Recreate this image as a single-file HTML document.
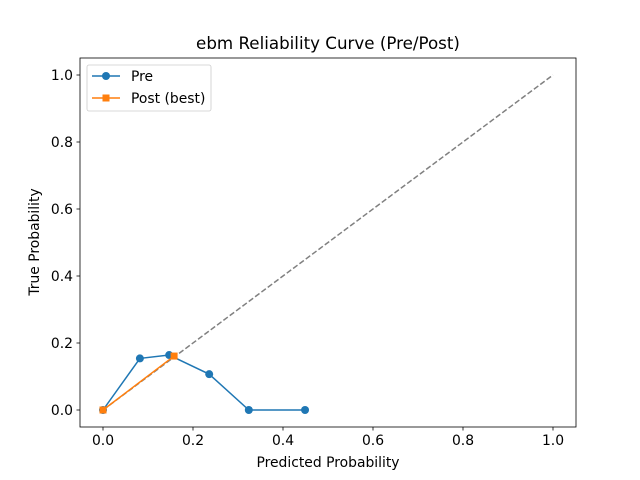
<!DOCTYPE html>
<html><head><meta charset="utf-8"><style>body{margin:0;background:#fff}svg{display:block;font-family:"DejaVu Sans","Liberation Sans",sans-serif}</style></head>
<body>
<svg id="chart" width="640" height="480" viewBox="0 0 640 480">
<rect width="640" height="480" fill="#fff"/>
<g id="plot"></g>
</svg>
<script>
const xTicks=[0,0.2,0.4,0.6,0.8,1.0];
const xTickLabels=["0.0","0.2","0.4","0.6","0.8","1.0"];
const yTicks=[0,0.2,0.4,0.6,0.8,1.0];
const yTickLabels=["0.0","0.2","0.4","0.6","0.8","1.0"];
const preX=[0,0.082,0.147,0.236,0.324,0.449];
const preY=[0,0.154,0.164,0.107,0,0];
const postX=[0,0.158];
const postY=[0,0.161];
const diagX=[0,1];
const diagY=[0,1];

const NS="http://www.w3.org/2000/svg";
const L=80,R=576,T=58,B=427;
const sx=v=>103+v*450, sy=v=>410-v*335;
const g=document.getElementById('plot');
function mk(tag,attrs,parent){const e=document.createElementNS(NS,tag);for(const k in attrs)e.setAttribute(k,attrs[k]);(parent||g).appendChild(e);return e;}
function txt(s,attrs){const e=mk('text',attrs);e.textContent=s;return e;}

const diag=mk('polyline',{points:diagX.map((x,i)=>sx(x)+','+sy(diagY[i])).join(' '),fill:'none',stroke:'#808080','stroke-width':1.5,'stroke-dasharray':'5.5,2.4'});



const pre=mk('polyline',{points:preX.map((x,i)=>sx(x)+','+sy(preY[i])).join(' '),fill:'none',stroke:'#1f77b4','stroke-width':1.5});


preX.forEach((x,i)=>{const c=mk('circle',{cx:sx(x),cy:sy(preY[i]),r:4,fill:'#1f77b4'});

});

const post=mk('polyline',{points:postX.map((x,i)=>sx(x)+','+sy(postY[i])).join(' '),fill:'none',stroke:'#ff7f0e','stroke-width':1.5});


postX.forEach((x,i)=>{const r=mk('rect',{x:sx(x)-3.5,y:sy(postY[i])-3.5,width:7,height:7,fill:'#ff7f0e'});

});

const frame=mk('rect',{x:L,y:T,width:R-L,height:B-T,fill:'none',stroke:'#000','stroke-width':0.8});



xTicks.forEach((v,i)=>{mk('line',{x1:sx(v),x2:sx(v),y1:B,y2:B+3.5,stroke:'#000','stroke-width':0.8});
const t=txt(xTickLabels[i],{x:sx(v),y:B+18,'font-size':13.9,'text-anchor':'middle'});

});
yTicks.forEach((v,i)=>{mk('line',{x1:L,x2:L-3.5,y1:sy(v),y2:sy(v),stroke:'#000','stroke-width':0.8});
const t=txt(yTickLabels[i],{x:L-7,y:sy(v)+5,'font-size':13.9,'text-anchor':'end'});

});

const title=txt('ebm Reliability Curve (Pre/Post)',{x:328,y:49,'font-size':16.7,'text-anchor':'middle'});


const xt=txt('Predicted Probability',{x:328,y:467,'font-size':13.9,'text-anchor':'middle'});


const yt=txt('True Probability',{x:0,y:0,'font-size':13.9,'text-anchor':'middle',transform:'translate(39,242) rotate(-90)'});



const lg=mk('g',{});


mk('rect',{x:87,y:65,width:124,height:46,rx:2,fill:'#fff',stroke:'#ccc','stroke-width':0.8,'fill-opacity':0.8},lg);
mk('line',{x1:92,x2:120,y1:76,y2:76,stroke:'#1f77b4','stroke-width':1.5},lg);
mk('circle',{cx:106,cy:76,r:4,fill:'#1f77b4'},lg);
const l1=mk('text',{x:131,y:81,'font-size':13.9},lg);l1.textContent='Pre';


mk('line',{x1:92,x2:120,y1:98,y2:98,stroke:'#ff7f0e','stroke-width':1.5},lg);
mk('rect',{x:102.5,y:94.5,width:7,height:7,fill:'#ff7f0e'},lg);
const l2=mk('text',{x:131,y:103,'font-size':13.9},lg);l2.textContent='Post (best)';


</script>
</body></html>
